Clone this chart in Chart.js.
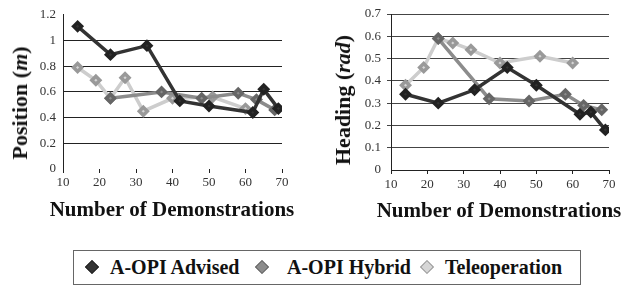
<!DOCTYPE html>
<html>
<head>
<meta charset="utf-8">
<script src="https://cdn.jsdelivr.net/npm/chart.js@4/dist/chart.umd.min.js"></script>
<style>
body { margin: 0; background: #fff; width: 623px; height: 286px; position: relative; overflow: hidden; font-family: "Liberation Serif", "DejaVu Serif", serif; }
.box { position: absolute; }
.ytitle { position: absolute; font-weight: bold; font-size: 22px; white-space: nowrap; transform: translate(-50%, -50%) rotate(-90deg); color: #111; }
.xtitle { position: absolute; font-weight: bold; font-size: 21px; white-space: nowrap; transform: translate(-50%, -50%); color: #111; }
#legend { position: absolute; left: 73px; top: 250px; width: 506px; height: 33px; border: 1px solid #666; }
.item { position: absolute; top: 0; height: 33px; line-height: 33px; font-weight: bold; font-size: 20px; color: #111; white-space: nowrap; }
.dia { position: absolute; top: 11px; width: 10px; height: 10px; transform: rotate(45deg); box-sizing: border-box; }
</style>
</head>
<body>
<div class="box" style="left:0;top:0;width:310px;height:235px"><canvas id="pos"></canvas></div>
<div class="box" style="left:310px;top:0;width:313px;height:235px"><canvas id="head"></canvas></div>
<div class="ytitle" style="left:20px;top:103px">Position (<i>m</i>)</div>
<div class="ytitle" style="left:343px;top:100px">Heading (<i>rad</i>)</div>
<div class="xtitle" style="left:172px;top:209px">Number of Demonstrations</div>
<div class="xtitle" style="left:499px;top:210px">Number of Demonstrations</div>
<div id="legend">
  <div class="dia" style="left:13px;background:#333;border:1px solid #222"></div>
  <div class="item" style="left:36px">A-OPI Advised</div>
  <div class="dia" style="left:183px;background:#8c8c8c;border:1px solid #666"></div>
  <div class="item" style="left:213px">A-OPI Hybrid</div>
  <div class="dia" style="left:348px;background:#d6d6d6;border:1px solid #999"></div>
  <div class="item" style="left:371px">Teleoperation</div>
</div>
<script>
Chart.defaults.font.family = "'Liberation Serif', 'Times New Roman', serif";

var seriesNames = ['A-OPI Advised', 'A-OPI Hybrid', 'Teleoperation'];

var advisedX = [14, 23, 33, 42, 50, 62, 65, 69];
var hybridX = [23, 37, 48, 58, 63, 68];
var teleopX = [14, 19, 23, 27, 32, 40, 51, 60];

var posAdvised = [1.11, 0.89, 0.96, 0.53, 0.49, 0.44, 0.62, 0.47];
var posHybrid = [0.55, 0.60, 0.55, 0.59, 0.54, 0.46];
var posTeleop = [0.79, 0.69, 0.55, 0.71, 0.45, 0.55, 0.56, 0.47];

var headAdvised = [0.34, 0.30, 0.36, 0.46, 0.38, 0.25, 0.26, 0.18];
var headHybrid = [0.59, 0.32, 0.31, 0.34, 0.29, 0.27];
var headTeleop = [0.38, 0.46, 0.59, 0.57, 0.54, 0.48, 0.51, 0.48];

var xTicks = [10, 20, 30, 40, 50, 60, 70];

function pts(xs, ys) {
  var out = [];
  for (var i = 0; i < xs.length; i++) out.push({x: xs[i], y: ys[i]});
  return out;
}

function makeSets(a, h, t) {
  return [
    {label: seriesNames[2], data: pts(teleopX, t), borderColor: '#cdcdcd', borderWidth: 3.5,
     pointBackgroundColor: '#d6d6d6', pointBorderColor: '#999', order: 3},
    {label: seriesNames[1], data: pts(hybridX, h), borderColor: '#8c8c8c', borderWidth: 3.5,
     pointBackgroundColor: '#8c8c8c', pointBorderColor: '#666', order: 2},
    {label: seriesNames[0], data: pts(advisedX, a), borderColor: '#333', borderWidth: 3.5,
     pointBackgroundColor: '#333', pointBorderColor: '#222', order: 1}
  ];
}

function tickFont() { return {family: "'Liberation Serif', 'Times New Roman', serif", size: 13}; }

function makeChart(id, sets, opt) {
  return new Chart(document.getElementById(id), {
    type: 'line',
    data: {datasets: sets},
    options: {
      responsive: true,
      maintainAspectRatio: false,
      animation: false,
      layout: {padding: {left: 0, top: opt.top, right: opt.right, bottom: 0}},
      elements: {
        line: {tension: 0},
        point: {pointStyle: 'rectRot', radius: 4, borderWidth: 1}
      },
      plugins: {legend: {display: false}, tooltip: {enabled: false}},
      scales: {
        x: {
          type: 'linear', min: 10, max: 70,
          afterBuildTicks: function (s) { s.ticks = xTicks.map(function (v) { return {value: v}; }); },
          afterFit: function (s) { s.height = opt.xh; },
          grid: {drawOnChartArea: false, tickLength: 4, color: '#222'},
          border: {display: opt.xBorder, color: '#222'},
          ticks: {font: tickFont(), color: '#333', padding: opt.xpad, maxRotation: 0}
        },
        y: {
          min: 0, max: opt.ymax,
          ticks: {
            stepSize: opt.step, font: tickFont(), color: '#333', padding: opt.ypad,
            callback: function (v) { return String(Number(v.toFixed(2))); }
          },
          afterFit: function (s) { s.width = opt.yw; },
          grid: {
            drawTicks: opt.yTicks, tickLength: 4,
            color: function (c) {
              if (c.tick && (c.tick.value === 0 || (opt.noTop && c.tick.value === opt.ymax))) return 'rgba(0,0,0,0)';
              return opt.gridColor;
            }
          },
          border: {display: true, color: '#222'}
        }
      }
    }
  });
}

makeChart('pos', makeSets(posAdvised, posHybrid, posTeleop),
  {top: 12, right: 28, xh: 66, yw: 63, ymax: 1.2, step: 0.2, xBorder: false, xpad: 2, ypad: 7,
   yTicks: false, noTop: true, gridColor: '#222'});
makeChart('head', makeSets(headAdvised, headHybrid, headTeleop),
  {top: 14, right: 14, xh: 65, yw: 81, ymax: 0.7, step: 0.1, xBorder: true, xpad: 3, ypad: 6,
   yTicks: true, noTop: false, gridColor: '#444'});
</script>
</body>
</html>
